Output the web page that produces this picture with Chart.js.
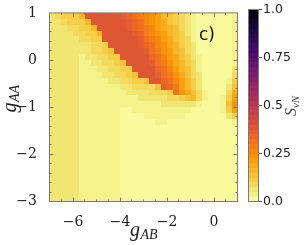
<!DOCTYPE html>
<html>
<head>
<meta charset="utf-8">
<script src="https://cdn.jsdelivr.net/npm/chart.js@4.4.1/dist/chart.umd.min.js"></script>
<style>
  html, body { margin: 0; padding: 0; background: #fff; }
  #wrap { position: relative; width: 307px; height: 245px; overflow: hidden; }
  #main { position: absolute; left: 0; top: 0; }
  #bar { position: absolute; left: 240px; top: 0; }
</style>
</head>
<body>
<div id="wrap">
  <canvas id="main" width="307" height="245"></canvas>
  <canvas id="bar" width="67" height="245"></canvas>
</div>
<script>
// cell edges of the (g_AB, g_AA) grid
const gAB = [-7, -6.75, -6.5, -6.25, -6, -5.75, -5.5, -5.25, -5, -4.75, -4.5, -4.25, -4, -3.75, -3.5, -3.25,
  -3, -2.75, -2.5, -2.25, -2, -1.75, -1.5, -1.25, -1, -0.75, -0.5, -0.25, 0, 0.25, 0.5, 0.75, 1];
const gAA = [1, 0.875, 0.75, 0.625, 0.5, 0.375, 0.25, 0.125, 0, -0.125, -0.25, -0.375, -0.5, -0.625, -0.75, -0.875,
  -1, -1.125, -1.25, -1.375, -1.5, -1.625, -1.75, -1.875, -2, -2.125, -2.25, -2.375, -2.5, -2.625, -2.75, -2.875, -3];

const xTickVals = [-6, -4, -2, 0];
const yTickVals = [-3, -2, -1, 0, 1];
const cbTickVals = [0, 0.25, 0.5, 0.75, 1];
const cbTickText = ['0.0', '0.25', '0.5', '0.75', '1.0'];

// S_vN: one char per cell = contour band (base 36), band width 0.025
const bandWidth = 0.025;
const sVN = [
  '234446ff ffffedcb a9865432 10000001',
  '2234446f fffffedc a9875432 10000001',
  '22233446 fffffedc ba876532 10000001',
  '22223344 6fffffed ba986542 10000001',
  '22222334 4ffffffe cba87543 10000001',
  '22222223 34fffffe dca97643 20000001',
  '22222223 345fffff ecb98653 20000001',
  '22222122 3344ffff fdca8754 21000001',
  '22222112 23345fff fecb9764 31000001',
  '22222111 223344ff ffdca865 31000002',
  '22222111 1223345f ffecb975 32000003',
  '22222111 11223344 5ffdca86 42000014',
  '22222111 11112233 335edb86 42000025',
  '22222111 11111222 23334c97 53100037',
  '22222111 11111112 22223345 63100148',
  '22222111 11111111 11122222 21000159',
  '22222111 11110011 11111111 00000148',
  '22222111 11110000 11111110 00000024',
  '22222111 11110000 00110000 00000001',
  '22222111 11110000 00000000 00000000',
  '22222111 11110000 00000000 00000000',
  '22222111 11110000 00000000 00000000',
  '22222111 11110000 00000000 00000000',
  '22222111 11110000 00000000 00000000',
  '22222111 11110000 00000000 00000000',
  '22222111 11110000 00000000 00000000',
  '22222111 11110000 00000000 00000000',
  '22222111 11110000 00000000 00000000',
  '22222111 11110000 00000000 00000000',
  '22222111 11110000 00000000 00000000',
  '22222111 11110000 00000000 00000000',
  '22222111 11110000 00000000 00000000'
];
const sGrid = sVN.map(r => r.replace(/ /g, '').split('').map(c => (parseInt(c, 36) + 0.5) * bandWidth));

// inferno, used reversed
const infernoStops = [
  [0.000, [0, 0, 4]], [0.111, [27, 12, 66]], [0.222, [75, 12, 107]], [0.333, [120, 28, 109]],
  [0.444, [165, 44, 96]], [0.556, [207, 68, 70]], [0.667, [237, 105, 37]], [0.778, [251, 154, 6]],
  [0.889, [246, 207, 72]], [0.9375, [242, 230, 114]], [0.9625, [244, 242, 138]], [0.9875, [250, 250, 157]],
  [1.0, [252, 255, 164]]
];
function inferno(t) {
  t = Math.max(0, Math.min(1, t));
  for (let i = 1; i < infernoStops.length; i++) {
    const [t1, c1] = infernoStops[i];
    const [t0, c0] = infernoStops[i - 1];
    if (t <= t1) {
      const f = (t - t0) / (t1 - t0);
      const c = c0.map((v, k) => Math.round(v + (c1[k] - v) * f));
      return 'rgb(' + c.join(',') + ')';
    }
  }
  return 'rgb(252,255,164)';
}
function bandColor(v) {
  const m = Math.min(Math.floor(v / bandWidth), Math.round(1 / bandWidth) - 1);
  return inferno(1 - (m + 0.5) * bandWidth);
}

const minus = v => String(v).replace('-', '\u2212');
const serif = '"DejaVu Serif", serif';
const mathFont = '"Liberation Serif", serif';

function subLabel(ctx, x, y, main, sub, rot, big, small) {
  ctx.save();
  ctx.translate(x, y);
  ctx.rotate(rot);
  ctx.textAlign = 'left';
  ctx.textBaseline = 'alphabetic';
  ctx.font = 'italic ' + big + 'px ' + mathFont;
  const w1 = ctx.measureText(main).width;
  ctx.font = 'italic ' + small + 'px ' + mathFont;
  const w2 = ctx.measureText(sub).width;
  const x0 = -(w1 + w2) / 2;
  ctx.fillStyle = '#222';
  ctx.font = 'italic ' + big + 'px ' + mathFont;
  ctx.fillText(main, x0, 0);
  ctx.font = 'italic ' + small + 'px ' + mathFont;
  ctx.fillText(sub, x0 + w1 + 0.5, big * 0.17);
  ctx.restore();
}

const heatmap = {
  id: 'heatmap',
  beforeDatasetsDraw(chart) {
    const { ctx, scales: { x, y } } = chart;
    ctx.save();
    sGrid.forEach((row, i) => {
      const y0 = Math.round(y.getPixelForValue(gAA[i]));
      const y1 = Math.round(y.getPixelForValue(gAA[i + 1]));
      row.forEach((v, j) => {
        const x0 = Math.round(x.getPixelForValue(gAB[j]));
        const x1 = Math.round(x.getPixelForValue(gAB[j + 1]));
        ctx.fillStyle = bandColor(v);
        ctx.fillRect(x0, y0, x1 - x0, y1 - y0);
      });
    });
    ctx.restore();
  },
  afterDraw(chart) {
    const { ctx, scales: { x, y }, chartArea: a } = chart;
    ctx.save();
    ctx.strokeStyle = '#7a7a7a';
    ctx.lineWidth = 1;
    ctx.strokeRect(a.left, a.top, a.right - a.left, a.bottom - a.top);
    // inward ticks on all four sides
    ctx.beginPath();
    for (let v = -6.5; v < 1; v += 0.5) {
      const px = Math.floor(x.getPixelForValue(v)) + 0.5;
      const len = xTickVals.includes(v) ? 4 : 2;
      ctx.moveTo(px, a.bottom); ctx.lineTo(px, a.bottom - len);
      ctx.moveTo(px, a.top); ctx.lineTo(px, a.top + len);
    }
    for (let k = -14; k <= 4; k++) {
      const v = k / 5;
      const py = Math.floor(y.getPixelForValue(v)) + 0.5;
      const len = yTickVals.includes(v) ? 4 : 2;
      ctx.moveTo(a.left, py); ctx.lineTo(a.left + len, py);
      ctx.moveTo(a.right, py); ctx.lineTo(a.right - len, py);
    }
    ctx.stroke();
    ctx.fillStyle = '#111';
    ctx.font = '17px "DejaVu Sans", sans-serif';
    ctx.textBaseline = 'alphabetic';
    ctx.fillText('c)', 199, 40);
    ctx.restore();
    subLabel(ctx, 143.5, 236, 'g', 'AB', 0, 20, 14);
    subLabel(ctx, 16, 99, 'g', 'AA', -Math.PI / 2, 20, 14);
  }
};

new Chart(document.getElementById('main'), {
  type: 'scatter',
  data: { datasets: [{ data: [] }] },
  options: {
    responsive: false,
    animation: false,
    layout: { padding: { left: 0, top: 9.5, right: 69.5, bottom: 0 } },
    plugins: { legend: { display: false }, tooltip: { enabled: false } },
    scales: {
      x: {
        type: 'linear', min: -7, max: 1,
        afterBuildTicks: s => { s.ticks = xTickVals.map(v => ({ value: v })); },
        afterFit: s => { s.height = 43.5; },
        grid: { display: false }, border: { display: false },
        ticks: { font: { family: serif, size: 14 }, color: '#222', padding: 4, maxRotation: 0, autoSkip: false, callback: minus }
      },
      y: {
        type: 'linear', min: -3, max: 1,
        afterBuildTicks: s => { s.ticks = yTickVals.map(v => ({ value: v })); },
        afterFit: s => { s.width = 49.5; },
        grid: { display: false }, border: { display: false },
        ticks: { font: { family: serif, size: 14 }, color: '#222', padding: 4.5, autoSkip: false, callback: minus }
      }
    }
  },
  plugins: [heatmap]
});

const colorbar = {
  id: 'colorbar',
  beforeDatasetsDraw(chart) {
    const { ctx, scales: { y }, chartArea: a } = chart;
    ctx.save();
    const n = Math.round(1 / bandWidth);
    for (let m = 0; m < n; m++) {
      const y0 = Math.round(y.getPixelForValue((m + 1) * bandWidth));
      const y1 = Math.round(y.getPixelForValue(m * bandWidth));
      ctx.fillStyle = bandColor((m + 0.5) * bandWidth);
      ctx.fillRect(Math.round(a.left), y0, Math.round(a.right) - Math.round(a.left), y1 - y0);
    }
    ctx.strokeStyle = '#7a7a7a';
    ctx.lineWidth = 1;
    ctx.strokeRect(a.left, a.top, a.right - a.left, a.bottom - a.top);
    ctx.restore();
  },
  afterDraw(chart) {
    const { ctx } = chart;
    ctx.save();
    ctx.translate(56, 106);
    ctx.rotate(-Math.PI / 2);
    ctx.fillStyle = '#444';
    ctx.textBaseline = 'alphabetic';
    ctx.font = 'italic 16px ' + mathFont;
    const w1 = ctx.measureText('S').width;
    ctx.font = 'italic 11px ' + mathFont;
    const w2 = ctx.measureText('vN').width;
    const x0 = -(w1 + w2) / 2;
    ctx.font = 'italic 16px ' + mathFont;
    ctx.fillText('S', x0, 0);
    ctx.font = 'italic 11px ' + mathFont;
    ctx.fillText('vN', x0 + w1, 2.5);
    ctx.restore();
  }
};

new Chart(document.getElementById('bar'), {
  type: 'scatter',
  data: { datasets: [{ data: [] }] },
  options: {
    responsive: false,
    animation: false,
    layout: { padding: { left: 8.5, top: 9.5, right: 0, bottom: 43.5 } },
    plugins: { legend: { display: false }, tooltip: { enabled: false } },
    scales: {
      x: { type: 'linear', min: 0, max: 1, display: false },
      y: {
        type: 'linear', position: 'right', min: 0, max: 1,
        afterBuildTicks: s => { s.ticks = cbTickVals.map(v => ({ value: v })); },
        afterFit: s => { s.width = 48.5; },
        border: { display: false },
        grid: { display: true, drawOnChartArea: false, drawTicks: true, tickLength: 3.5, color: '#555' },
        ticks: { font: { family: '"DejaVu Sans", sans-serif', size: 12.5 }, color: '#222', padding: 1,
          callback: (v, i) => cbTickText[i] }
      }
    }
  },
  plugins: [colorbar]
});
</script>
</body>
</html>
